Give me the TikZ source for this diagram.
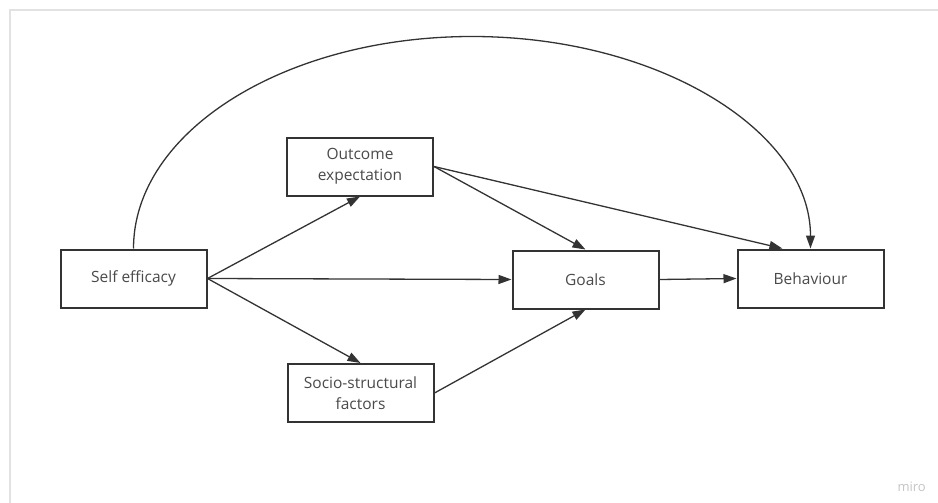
\documentclass[tikz,border=0pt]{standalone}
\usepackage{fontspec}
\setmainfont{Open Sans}
\usetikzlibrary{arrows.meta,calc}
\definecolor{boxline}{HTML}{333333}
\definecolor{labeltext}{HTML}{4A4A4A}
\definecolor{framegray}{HTML}{E2E2E2}
\definecolor{markgray}{HTML}{C4C4C4}
\tikzset{
  factor/.style={draw=boxline, line width=2pt, fill=white, rectangle,
    minimum width=146pt, minimum height=58pt, inner sep=0pt,
    align=center, text=labeltext, font=\fontsize{15.5}{21}\selectfont},
  link/.style={draw=boxline, line width=1.3pt,
    -{Triangle[length=13pt,width=9pt]}},
}
\begin{document}
\begin{tikzpicture}[x=1pt,y=-1pt]
\useasboundingbox (0,0) rectangle (938,503);
% board frame
\draw[framegray, line width=2pt] (10,503) -- (10,10) -- (938,10);

% factors
\node[factor] (se)  at (133.5,278.5) {Self efficacy};
\node[factor] (oe)  at (360,166.5)   {Outcome\\expectation};
\node[factor] (ssf) at (360.5,393)   {Socio-structural\\factors};
\node[factor] (gl)  at (585.5,279.5) {Goals};
\node[factor] (beh) at (810.5,278.5) {Behaviour};

% paths between factors
\draw[link] (se.east) -- (oe.south);
\draw[link] (se.east) -- (gl.west);
\draw[link] (se.east) -- (ssf.north);
\draw[link] (oe.east) -- (gl.north);
\draw[link] (oe.east) -- ($(beh.north west)!0.31!(beh.north east)$);
\draw[link] (ssf.east) -- (gl.south);
\draw[link] (gl.east) -- (beh.west);

% direct arc from self efficacy to behaviour
\coordinate (apex) at ($(se.north)!0.5!(beh.north)+(0,-212)$);
\draw[link] (se.north) .. controls +(0,-117) and ($(apex)+(-187,0)$) .. (apex)
  .. controls ($(apex)+(187,0)$) and ($(beh.north)+(0,-117)$) .. (beh.north);

% board watermark
\node[text=markgray, font=\fontsize{13}{15}\selectfont, anchor=east, inner sep=0pt] (mark) at (926,487) {miro};
\end{tikzpicture}
\end{document}
